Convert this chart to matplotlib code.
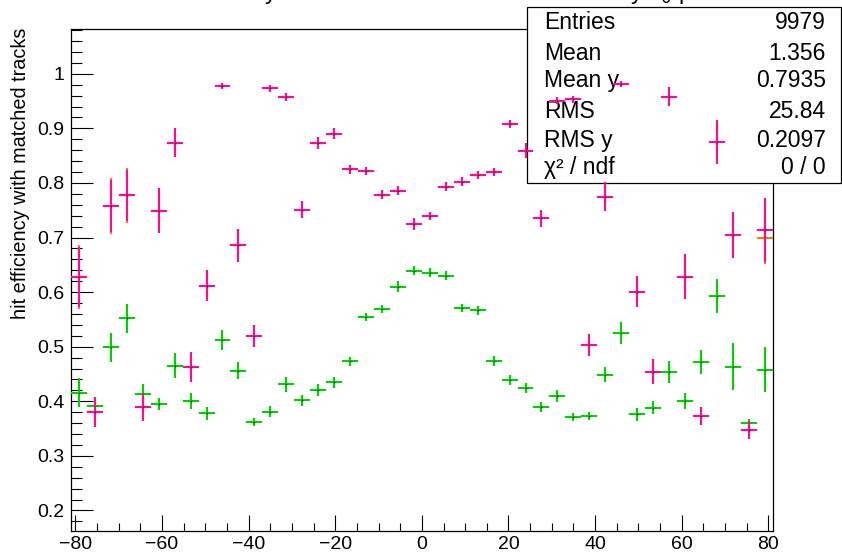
import numpy as np
import matplotlib
matplotlib.use("Agg")
from matplotlib import pyplot as plt
from matplotlib.patches import Rectangle

plt.rcParams['font.family'] = ['Liberation Sans', 'DejaVu Sans']

# histogram binning (ROOT style): 44 bins from -81 to 81
n_bins = 44
x_low, x_high = -81.0, 81.0

pink_vals = [0.628, 0.381, 0.758, 0.777, 0.390, 0.749, 0.874, 0.462, 0.612, 0.9775,
             0.686, 0.520, 0.973, 0.957, 0.751, 0.874, 0.890, 0.825, 0.822, 0.7785,
             0.786, 0.725, 0.7395, 0.793, 0.802, 0.8145, 0.820, 0.908, 0.859, 0.735,
             0.9506, 0.953, 0.503, 0.775, 0.981, 0.601, 0.4545, 0.958, 0.628, 0.3733,
             0.8755, 0.7047, 0.3477, 0.714]
pink_errs = [0.055, 0.0275, 0.048, 0.047, 0.026, 0.041, 0.026, 0.0275, 0.028, 0.0055,
             0.030, 0.020, 0.006, 0.007, 0.016, 0.011, 0.010, 0.008, 0.008, 0.008,
             0.008, 0.011, 0.008, 0.008, 0.008, 0.008, 0.008, 0.008, 0.0137, 0.015,
             0.006, 0.006, 0.0198, 0.026, 0.006, 0.029, 0.0235, 0.0174, 0.041, 0.017,
             0.040, 0.0427, 0.017, 0.058]

# third histogram, almost fully hidden under the pink one
orange_vals = [0.628, 0.381, 0.758, 0.777, 0.390, 0.749, 0.874, 0.462, 0.612, 0.9775,
               0.686, 0.520, 0.973, 0.957, 0.751, 0.874, 0.890, 0.825, 0.822, 0.7785,
               0.786, 0.725, 0.7395, 0.793, 0.802, 0.8145, 0.820, 0.908, 0.859, 0.735,
               0.9506, 0.953, 0.503, 0.775, 0.981, 0.601, 0.4545, 0.958, 0.628, 0.3733,
               0.8755, 0.7047, 0.3477, 0.700]
orange_errs = [0.059, 0.0275, 0.051, 0.050, 0.026, 0.041, 0.026, 0.0275, 0.028, 0.0055,
               0.030, 0.020, 0.006, 0.007, 0.016, 0.011, 0.010, 0.008, 0.008, 0.008,
               0.008, 0.011, 0.008, 0.008, 0.008, 0.008, 0.008, 0.008, 0.0137, 0.015,
               0.006, 0.006, 0.0198, 0.026, 0.006, 0.029, 0.0235, 0.0174, 0.041, 0.017,
               0.040, 0.0427, 0.017, 0.048]

green_vals = [0.416, 0.392, 0.499, 0.552, 0.414, 0.395, 0.465, 0.400, 0.378, 0.5125,
              0.456, 0.362, 0.381, 0.431, 0.402, 0.420, 0.435, 0.4735, 0.5546, 0.569,
              0.610, 0.639, 0.6357, 0.630, 0.571, 0.567, 0.4735, 0.439, 0.4246, 0.390,
              0.409, 0.371, 0.3733, 0.4484, 0.525, 0.3765, 0.3886, 0.4533, 0.400, 0.4716,
              0.5936, 0.4636, 0.360, 0.4576]
green_errs = [0.0265, 0.0143, 0.027, 0.026, 0.0174, 0.011, 0.023, 0.015, 0.012, 0.019,
              0.016, 0.008, 0.0098, 0.0137, 0.0104, 0.011, 0.0098, 0.008, 0.008, 0.007,
              0.010, 0.0085, 0.008, 0.008, 0.007, 0.008, 0.009, 0.0095, 0.0098, 0.0095,
              0.011, 0.0076, 0.007, 0.0137, 0.0198, 0.012, 0.012, 0.020, 0.0143, 0.022,
              0.031, 0.043, 0.008, 0.041]

stat_labels = ["Entries", "Mean", "Mean y", "RMS", "RMS y", "\u03c7\u00b2 / ndf"]
stat_values = ["9979", "1.356", "0.7935", "25.84", "0.2097", "0 / 0"]

y_title = "hit efficiency with matched tracks"
title = "hit efficiency with matched tracks and all hits by x$_{0}$ p"

PINK = '#ff0a96'
GREEN = '#00d000'
ORANGE = '#ff7a00'


def draw_hist(ax, centers, half_width, vals, errs, color, z):
    ax.errorbar(centers, vals, xerr=half_width, yerr=errs, fmt='none',
                ecolor=color, elinewidth=1.5, capsize=0, zorder=z)
    ax.plot(centers, vals, ls='none', marker='s', ms=0.9, mec='none',
            color='black', zorder=z + 0.1)


def plot():
    fig = plt.figure(figsize=(8.42, 5.52), dpi=100)
    ax = fig.add_axes([0.0843, 0.0386, 0.9177 - 0.0843, 0.9475 - 0.0386])

    edges = np.linspace(x_low, x_high, n_bins + 1)
    centers = 0.5 * (edges[1:] + edges[:-1])
    half_width = 0.5 * (edges[1] - edges[0])

    draw_hist(ax, centers, half_width, orange_vals, orange_errs, ORANGE, 4)
    draw_hist(ax, centers, half_width, green_vals, green_errs, GREEN, 5)
    draw_hist(ax, centers, half_width, pink_vals, pink_errs, PINK, 6)

    ax.set_xlim(x_low, x_high)
    ax.set_ylim(0.163, 1.082)
    ax.set_xticks(np.arange(-80, 81, 20))
    ax.set_xticks(np.arange(-80, 81, 5), minor=True)
    ax.set_yticks(np.arange(0.2, 1.01, 0.1))
    ax.set_yticks(np.arange(0.18, 1.081, 0.02), minor=True)
    ax.set_yticklabels(["0.2", "0.3", "0.4", "0.5", "0.6", "0.7", "0.8", "0.9", "1"])

    ax.tick_params(axis='both', which='both', direction='in', width=0.8,
                   labelsize=14, colors='black', right=False, top=False)
    ax.tick_params(axis='y', which='major', length=15.6, pad=5)
    ax.tick_params(axis='y', which='minor', length=7.7)
    ax.tick_params(axis='x', which='major', length=11.3, pad=4)
    ax.tick_params(axis='x', which='minor', length=6)
    for sp in ax.spines.values():
        sp.set_linewidth(0.9)
        sp.set_zorder(2)

    fig.text(0.024, 0.95, y_title, rotation=90, ha='center', va='top', fontsize=14.3)

    # title, mostly cut off by the top of the canvas (as in the original canvas)
    fig.text(146 / 842, 1.0 + 0.002, title, ha='left', va='baseline', fontsize=17)

    # stats box (drawn under the markers)
    box = Rectangle((527 / 842, 1 - 182.5 / 552), (841 - 527) / 842, (182.5 - 7.3) / 552,
                    transform=fig.transFigure, facecolor='white', edgecolor='black',
                    linewidth=0.9, clip_on=False, zorder=3)
    ax.add_patch(box)
    baselines = [29.3, 60.0, 87.3, 118.3, 146.7, 174.0]
    for lab, val, b in zip(stat_labels, stat_values, baselines):
        ax.text(544 / 842, 1 - b / 552, lab, transform=fig.transFigure, ha='left',
                va='baseline', fontsize=16.5, zorder=3.5, clip_on=False)
        ax.text(826 / 842, 1 - b / 552, val, transform=fig.transFigure, ha='right',
                va='baseline', fontsize=16.5, zorder=3.5, clip_on=False)

    fig.savefig("out.png", dpi=100)


if __name__ == "__main__":
    plot()
